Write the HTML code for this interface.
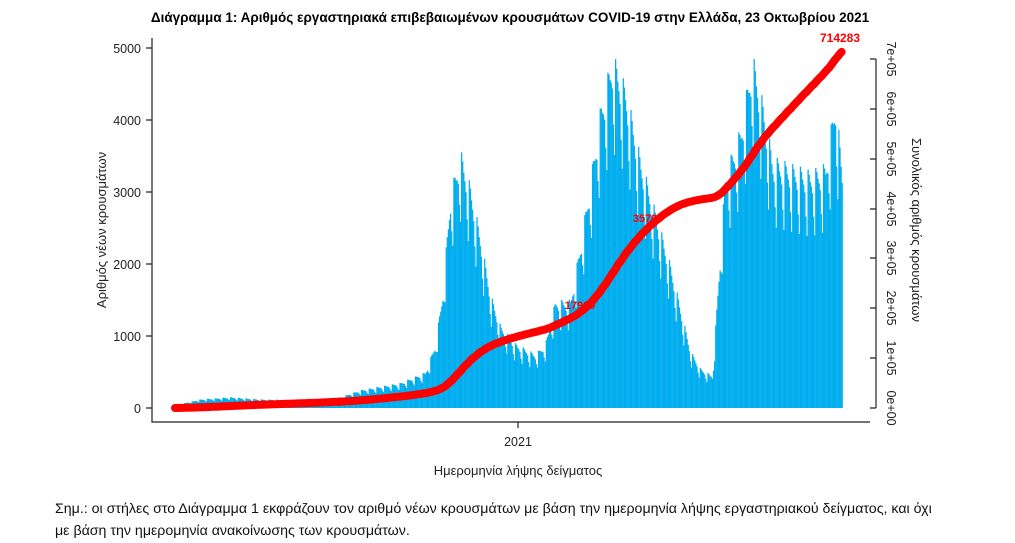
<!DOCTYPE html>
<html><head><meta charset="utf-8">
<style>
body{margin:0;background:#fff;width:1015px;height:543px;overflow:hidden;font-family:"Liberation Sans",sans-serif}
svg{position:absolute;left:0;top:0}
.note{position:absolute;left:55px;top:498px;font-size:14.2px;line-height:22px;color:#111;width:960px;white-space:nowrap}
</style></head><body>
<svg id="s" width="1015" height="543" xmlns="http://www.w3.org/2000/svg" font-family="Liberation Sans, sans-serif">
<text x="510" y="22" text-anchor="middle" font-size="13.5" font-weight="bold">Διάγραμμα 1: Αριθμός εργαστηριακά επιβεβαιωμένων κρουσμάτων COVID-19 στην Ελλάδα, 23 Οκτωβρίου 2021</text>
<g id="bars" fill="#00adef"></g>
<g stroke="#222" stroke-width="1.2" fill="none">
<path d="M152,38 V422 H870"/>
<path d="M146,48 H152 M146,120 H152 M146,192 H152 M146,264 H152 M146,336 H152 M146,408 H152"/>
<path d="M518,422 V428"/>
<path d="M876,59 V408 M876,59 H870 M876,109 H870 M876,159 H870 M876,209 H870 M876,258 H870 M876,308 H870 M876,358 H870 M876,408 H870"/>
</g>
<g font-size="12.5" text-anchor="end" fill="#222">
<text x="141" y="53">5000</text><text x="141" y="125">4000</text><text x="141" y="197">3000</text>
<text x="141" y="269">2000</text><text x="141" y="341">1000</text><text x="141" y="413">0</text>
</g>
<g font-size="12.5" fill="#222" text-anchor="middle">
<text transform="translate(887,59) rotate(90)">7e+05</text>
<text transform="translate(887,109) rotate(90)">6e+05</text>
<text transform="translate(887,159) rotate(90)">5e+05</text>
<text transform="translate(887,209) rotate(90)">4e+05</text>
<text transform="translate(887,258) rotate(90)">3e+05</text>
<text transform="translate(887,308) rotate(90)">2e+05</text>
<text transform="translate(887,358) rotate(90)">1e+05</text>
<text transform="translate(887,408) rotate(90)">0e+00</text>
<text transform="translate(912,230) rotate(90)" font-size="13">Συνολικός αριθμός κρουσμάτων</text>
<text transform="translate(106,230) rotate(-90)" font-size="13">Αριθμός νέων κρουσμάτων</text>
<text x="518" y="446">2021</text>
<text x="518" y="475" font-size="13">Ημερομηνία λήψης δείγματος</text>
</g>
<polyline id="cum" fill="none" stroke="#f00" stroke-width="8" stroke-linecap="round" stroke-linejoin="round"/>
<g fill="#f00" font-weight="bold" text-anchor="middle">
<text x="840" y="42" font-size="12">714283</text>
<text x="648" y="222" font-size="11">35700</text>
<text x="580" y="309" font-size="11">17900</text>
</g>
</svg>
<div class="note">Σημ.: οι στήλες στο Διάγραμμα 1 εκφράζουν τον αριθμό νέων κρουσμάτων με βάση την ημερομηνία λήψης εργαστηριακού δείγματος, και όχι<br>με βάση την ημερομηνία ανακοίνωσης των κρουσμάτων.</div>
<script>
var env=[[175,40],[200,120],[230,150],[260,120],[300,110],[340,150],[360,250],[400,350],[425,500],[435,900],[442,1600],[450,3000],[460,3600],[470,3100],[480,2400],[490,1600],[500,1150],[515,900],[535,750],[545,900],[555,1500],[570,1500],[580,2300],[590,3200],[600,4200],[612,4950],[625,4500],[640,3500],[650,3000],[660,2500],[670,2000],[680,1400],[690,800],[700,550],[712,450],[718,1800],[725,3300],[740,3900],[752,4950],[762,4300],[772,3500],[790,3400],[810,3300],[825,3400],[835,4360],[842,3300]];
function E(x){for(var i=1;i<env.length;i++){if(x<=env[i][0]){var a=env[i-1],b=env[i];return a[1]+(b[1]-a[1])*(x-a[0])/(b[0]-a[0]);}}return 3300;}
var s=1.1,bars=document.getElementById('bars'),h='',vals=[],xs=[];
for(var x=175,d=0;x<=842;x+=s,d++){var w=d%7,f=[0.72,1,0.98,0.95,0.93,0.9,0.8][w];var v=E(x)*f;vals.push(v);xs.push(x);
var hh=v*0.072;h+='<rect x="'+x.toFixed(2)+'" y="'+(408-hh).toFixed(2)+'" width="1.25" height="'+hh.toFixed(2)+'"/>';}
bars.innerHTML=h;
var tot=0;vals.forEach(function(v){tot+=v});var c=0,pts=[];
for(var i=0;i<vals.length;i++){c+=vals[i];var y=408-(c/tot*714283)*349/700000;pts.push(xs[i].toFixed(1)+','+y.toFixed(1));}
document.getElementById('cum').setAttribute('points',pts.join(' '));
</script>
</body></html>
